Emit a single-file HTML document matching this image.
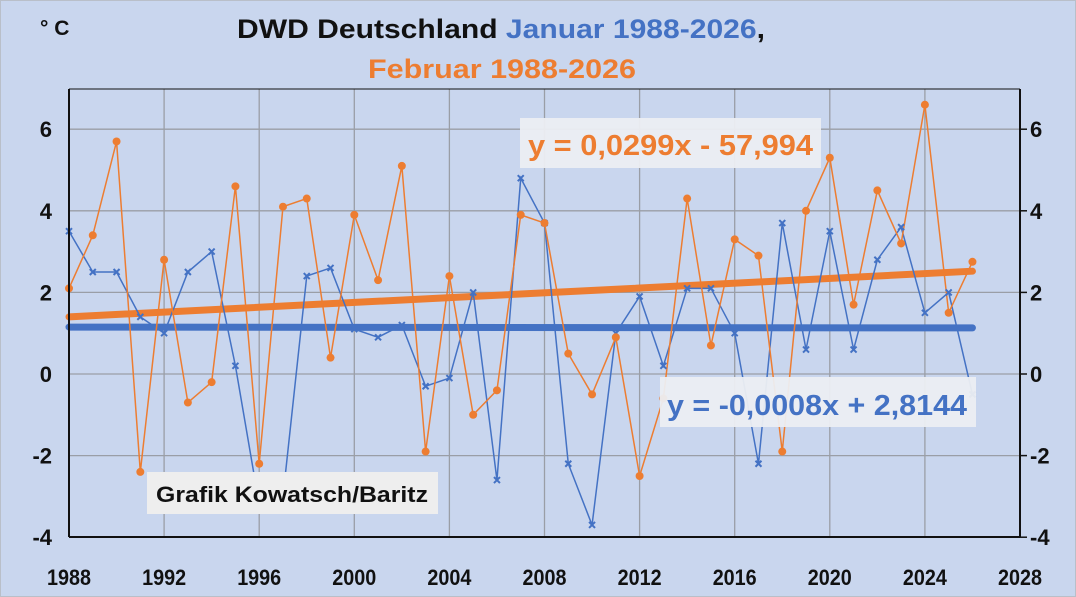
<!DOCTYPE html>
<html><head><meta charset="utf-8"><style>
html,body{margin:0;padding:0;background:#c9d6ee;}
svg{display:block}
text{font-family:"Liberation Sans Narrow","Liberation Sans",sans-serif;font-weight:bold;}
</style></head><body>
<svg id="s" width="1076" height="597" xmlns="http://www.w3.org/2000/svg">
<rect x="0" y="0" width="1076" height="597" fill="#c9d6ee" stroke="#b9bfc9" stroke-width="2"/>
<g id="grid" stroke="#9a9ea6" stroke-width="1.3"></g>
<g id="series"></g>
<line x1="69" y1="89" x2="69" y2="537" stroke="#111" stroke-width="2"/>
<line x1="69" y1="537" x2="1020" y2="537" stroke="#111" stroke-width="2"/>
<line x1="1020" y1="89" x2="1020" y2="537" stroke="#111" stroke-width="2"/>
<line x1="69" y1="89" x2="1020" y2="89" stroke="#111" stroke-width="1"/>
<g id="labels" font-size="22" fill="#111"></g>
<text x="40" y="35" font-size="21" fill="#111">° C</text>
<text x="237" y="38" font-size="27" fill="#111" textLength="528" lengthAdjust="spacingAndGlyphs">DWD Deutschland <tspan fill="#4472c4">Januar 1988-2026</tspan>,</text>
<text x="368" y="78" font-size="27" fill="#ed7d31" textLength="268" lengthAdjust="spacingAndGlyphs">Februar 1988-2026</text>
<rect x="520" y="118" width="301" height="50" fill="#eceef2" opacity="0.95"/>
<text x="528" y="155" font-size="29" fill="#ed7d31" textLength="285" lengthAdjust="spacingAndGlyphs">y = 0,0299x - 57,994</text>
<rect x="660" y="377" width="316" height="50" fill="#eceef2" opacity="0.95"/>
<text x="667" y="415" font-size="29" fill="#4472c4" textLength="300" lengthAdjust="spacingAndGlyphs">y = -0,0008x + 2,8144</text>
<rect x="147" y="472" width="291" height="42" fill="#eeeeee"/>
<text x="156" y="502" font-size="22" fill="#111" textLength="272" lengthAdjust="spacingAndGlyphs">Grafik Kowatsch/Baritz</text>
</svg>
<script>
var NS="http://www.w3.org/2000/svg";
function X(y){return 69+(y-1988)*23.775;}
function Y(v){return 374-40.8*v;}
function el(p,t,a){var e=document.createElementNS(NS,t);for(var k in a)e.setAttribute(k,a[k]);p.appendChild(e);return e;}
var g=document.getElementById('grid'),s=document.getElementById('series'),L=document.getElementById('labels');
for(var yr=1992;yr<=2024;yr+=4)el(g,'line',{x1:X(yr),y1:89,x2:X(yr),y2:537});
for(var v=-2;v<=6;v+=2)el(g,'line',{x1:69,y1:Y(v),x2:1020,y2:Y(v)});
for(var v=-4;v<=6;v+=2){
 var t=el(L,'text',{x:52,y:Y(v)+8,'text-anchor':'end'});t.textContent=v;
 var t2=el(L,'text',{x:1030,y:Y(v)+8});t2.textContent=v;
 el(L,'line',{x1:1020,y1:Y(v),x2:1027,y2:Y(v),stroke:'#111','stroke-width':1.5});
}
for(var yr=1988;yr<=2028;yr+=4){var t=el(L,'text',{x:X(yr)-22,y:585,textLength:44,lengthAdjust:'spacingAndGlyphs'});t.textContent=yr;}
var jan=[3.5,2.5,2.5,1.4,1.0,2.5,3.0,0.2,-3.2,-3.0,2.4,2.6,1.1,0.9,1.2,-0.3,-0.1,2.0,-2.6,4.8,3.7,-2.2,-3.7,1.0,1.9,0.2,2.1,2.1,1.0,-2.2,3.7,0.6,3.5,0.6,2.8,3.6,1.5,2.0,-0.5];
var feb=[2.1,3.4,5.7,-2.4,2.8,-0.7,-0.2,4.6,-2.2,4.1,4.3,0.4,3.9,2.3,5.1,-1.9,2.4,-1.0,-0.4,3.9,3.7,0.5,-0.5,0.9,-2.5,-0.6,4.3,0.7,3.3,2.9,-1.9,4.0,5.3,1.7,4.5,3.2,6.6,1.5,2.75];
el(s,'line',{x1:X(1988),y1:Y(1.15),x2:X(2026),y2:Y(1.13),stroke:'#4472c4','stroke-width':7,'stroke-linecap':'round'});
el(s,'line',{x1:X(1988),y1:Y(1.40),x2:X(2026),y2:Y(2.52),stroke:'#ed7d31','stroke-width':7,'stroke-linecap':'round'});
function poly(d,c){var p=d.map(function(v,i){return X(1988+i)+','+Y(v);}).join(' ');el(s,'polyline',{points:p,fill:'none',stroke:c,'stroke-width':1.5});}
poly(jan,'#4472c4');poly(feb,'#ed7d31');
jan.forEach(function(v,i){var x=X(1988+i),y=Y(v);el(s,'path',{d:'M'+(x-3)+' '+(y-3)+'L'+(x+3)+' '+(y+3)+'M'+(x+3)+' '+(y-3)+'L'+(x-3)+' '+(y+3),stroke:'#4472c4','stroke-width':2});});
feb.forEach(function(v,i){el(s,'circle',{cx:X(1988+i),cy:Y(v),r:4,fill:'#ed7d31'});});
</script>
</body></html>
